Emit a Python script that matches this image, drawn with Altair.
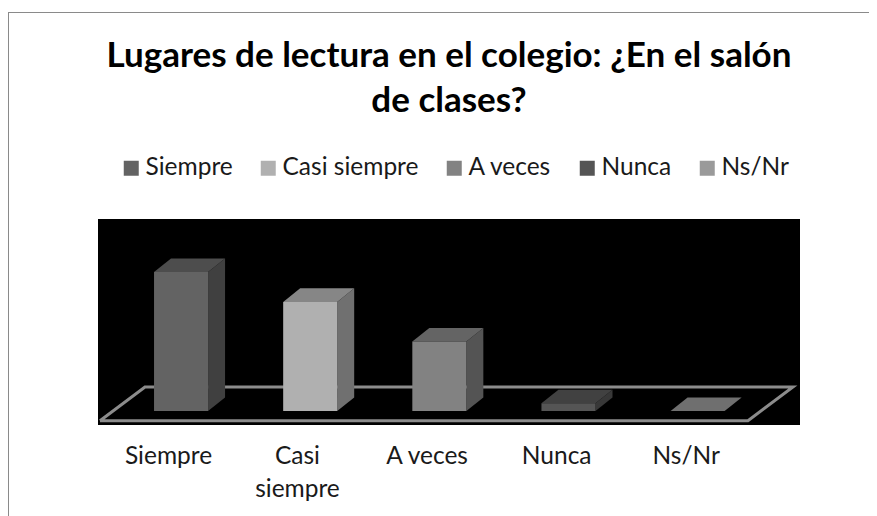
import json
import altair as alt
import pandas as pd

CATEGORIES = ["Siempre", "Casi siempre", "A veces", "Nunca", "Ns/Nr"]
AXIS_LINES = [["Siempre"], ["Casi", "siempre"], ["A veces"], ["Nunca"], ["Ns/Nr"]]
VALUES = [20, 15.7, 10, 1.1, 0]
FRONT = ["#636363", "#b0b0b0", "#828282", "#555555", "#9a9a9a"]
TOP = ["#4d4d4d", "#868686", "#646464", "#414141", "#6f6f6f"]
SIDE = ["#404040", "#707070", "#545454", "#383838", "#6f6f6f"]
TITLE_LINES = ["Lugares de lectura en el colegio: ¿En el salón", "de clases?"]
FONT = "Lato"

BAR_START, BAR_W = 0.417, 0.417
DEPTH_X, DEPTH_Y = 0.131, 1.95
XDOM = [-0.0154, 5.4015]
YDOM = [-2.014, 27.63]

fronts, faces_side, faces_top = [], [], []
for i, (c, v) in enumerate(zip(CATEGORIES, VALUES)):
    l = i * 0.9965 + BAR_START
    r = l + BAR_W
    fronts.append(dict(cat=c, x=l, x2=r, y=0, y2=v))
    faces_side += [
        dict(cat=c, x=r, y=v, y2=0, fill=SIDE[i]),
        dict(cat=c, x=r + DEPTH_X, y=v + DEPTH_Y, y2=DEPTH_Y, fill=SIDE[i]),
    ]
    faces_top += [
        dict(cat=c, x=l, y=v, y2=v, fill=TOP[i]),
        dict(cat=c, x=l + DEPTH_X, y=v + DEPTH_Y, y2=v, fill=TOP[i]),
        dict(cat=c, x=r, y=v + DEPTH_Y, y2=v, fill=TOP[i]),
        dict(cat=c, x=r + DEPTH_X, y=v + DEPTH_Y, y2=v + DEPTH_Y, fill=TOP[i]),
    ]

floor = pd.DataFrame(
    dict(
        x=[0, 5, 5.347, 0.347, 0],
        y=[-1.4, -1.4, 3.45, 3.45, -1.4],
        k=[0, 1, 2, 3, 4],
    )
)

xs = alt.Scale(domain=XDOM, nice=False, zero=False)
ys = alt.Scale(domain=YDOM, nice=False, zero=False)
label_expr = "%s[round(datum.value - 0.525)]" % json.dumps(AXIS_LINES, ensure_ascii=False)
x_axis = alt.Axis(
    values=[0.525, 1.52, 2.52, 3.52, 4.52],
    labelExpr=label_expr,
    title=None,
    domain=False,
    ticks=False,
    grid=False,
    labelFont=FONT,
    labelFontSize=24.5,
    labelColor="#1a1a1a",
    labelPadding=19,
    labelLineHeight=33,
    labelBaseline="top",
    labelFlush=False,
    labelOverlap=False,
)
no_x = alt.X("x:Q", scale=xs, axis=x_axis)
no_y = alt.Y("y:Q", scale=ys, axis=None)

floor_layer = (
    alt.Chart(floor)
    .mark_line(color="#8c8c8c", strokeWidth=3, strokeJoin="miter")
    .encode(x=no_x, y=no_y, order="k:Q")
)

side_layer = (
    alt.Chart(pd.DataFrame(faces_side))
    .mark_area(opacity=1)
    .encode(x=no_x, y=no_y, y2="y2:Q", color=alt.Color("fill:N", scale=None), detail="cat:N")
)
top_layer = (
    alt.Chart(pd.DataFrame(faces_top))
    .mark_area(opacity=1)
    .encode(x=no_x, y=no_y, y2="y2:Q", color=alt.Color("fill:N", scale=None), detail="cat:N")
)
front_layer = (
    alt.Chart(pd.DataFrame(fronts))
    .mark_rect()
    .encode(
        x=no_x,
        x2="x2:Q",
        y=no_y,
        y2="y2:Q",
        color=alt.Color(
            "cat:N",
            scale=alt.Scale(domain=CATEGORIES, range=FRONT),
            legend=alt.Legend(
                title=None,
                orient="none",
                direction="horizontal",
                columns=5,
                legendX=21,
                legendY=-63,
                symbolType="square",
                symbolSize=225,
                symbolStrokeWidth=0,
                symbolOpacity=1,
                labelFont=FONT,
                labelFontSize=24.5,
                labelColor="#1a1a1a",
                labelOffset=2,
                columnPadding=23,
                gridAlign="none",
            ),
        ),
    )
)

frame_left = alt.Chart(pd.DataFrame({"k": [0]})).mark_rule(color="#8a8a8a", strokeWidth=1).encode(
    x=alt.value(-89.5), y=alt.value(-207), y2=alt.value(297)
)
frame_top = alt.Chart(pd.DataFrame({"k": [0]})).mark_rule(color="#8a8a8a", strokeWidth=1).encode(
    y=alt.value(-206.5), x=alt.value(-90), x2=alt.value(771)
)

chart = (
    alt.layer(frame_left, frame_top, floor_layer, side_layer, top_layer, front_layer)
    .resolve_scale(color="independent")
    .properties(
        width=702,
        height=206,
        padding={"left": 90, "top": 211, "right": 69, "bottom": 91},
        autosize=alt.AutoSizeParams(type="none"),
        background="#ffffff",
        title=alt.TitleParams(
            text=TITLE_LINES,
            font=FONT,
            fontSize=35,
            fontWeight="bold",
            color="#000000",
            anchor="middle",
            lineHeight=45,
            offset=-107,
        ),
    )
    .configure_view(fill="#000000", stroke=None)
)

chart.save("out.html", embed_options={"renderer": "svg", "actions": False})
